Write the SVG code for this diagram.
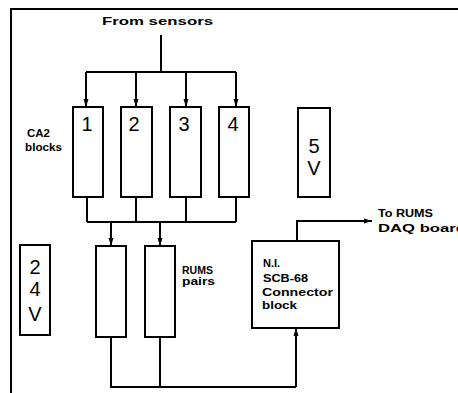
<svg xmlns="http://www.w3.org/2000/svg" width="458" height="393" viewBox="0 0 458 393">
<style>
.box{fill:#fff;stroke:#000;stroke-width:2}
.ln{fill:none;stroke:#000;stroke-width:2}
.lbl{font-family:"Liberation Sans",Arial,sans-serif;font-weight:bold;font-size:11px;fill:#000}
.num{font-family:"Liberation Sans",Arial,sans-serif;font-size:20px;fill:#000}
</style>
<defs>
<marker id="ah" viewBox="0 0 8 6" refX="8" refY="3" markerWidth="8" markerHeight="6" markerUnits="userSpaceOnUse" orient="auto">
<path d="M0,0.5 L8,3 L0,5.5 Z" fill="#000"/>
</marker>
</defs>
<rect width="458" height="393" fill="#fff"/>
<path class="ln" d="M11,393 V9 H458"/>
<text class="lbl" x="102" y="25" font-size="13" textLength="111" lengthAdjust="spacingAndGlyphs">From sensors</text>
<g id="connectors">
<path class="ln" d="M161,35 V72 M86,72 H236"/>
<path class="ln" d="M86,72 V107" marker-end="url(#ah)"/>
<path class="ln" d="M136,72 V107" marker-end="url(#ah)"/>
<path class="ln" d="M186,72 V107" marker-end="url(#ah)"/>
<path class="ln" d="M236,72 V107" marker-end="url(#ah)"/>
<path class="ln" d="M87,197 V222 M136,197 V222 M186,197 V222 M236,197 V222 M87,222 H236"/>
<path class="ln" d="M111,222 V246" marker-end="url(#ah)"/>
<path class="ln" d="M160,222 V246" marker-end="url(#ah)"/>
<path class="ln" d="M111,337 V387 H296 M160,337 V387"/>
<path class="ln" d="M296,387 V328" marker-end="url(#ah)"/>
<path class="ln" d="M297,241 V221 H372" marker-end="url(#ah)"/>
</g>
<g id="ca2-1"><rect class="box" x="73" y="107" width="30" height="90"/><text class="num" x="87" y="131" text-anchor="middle">1</text></g>
<g id="ca2-2"><rect class="box" x="121" y="107" width="31" height="90"/><text class="num" x="134" y="131" text-anchor="middle">2</text></g>
<g id="ca2-3"><rect class="box" x="170" y="107" width="31" height="90"/><text class="num" x="184" y="131" text-anchor="middle">3</text></g>
<g id="ca2-4"><rect class="box" x="219" y="107" width="30" height="90"/><text class="num" x="233" y="131" text-anchor="middle">4</text></g>
<text class="lbl" x="27" y="137" font-size="9" textLength="23" lengthAdjust="spacingAndGlyphs">CA2</text>
<text class="lbl" x="25" y="151" font-size="9" textLength="37" lengthAdjust="spacingAndGlyphs">blocks</text>
<g id="v5"><rect class="box" x="298" y="108" width="32" height="89"/><text class="num" x="314" y="153" text-anchor="middle" font-size="24">5</text><text class="num" x="314" y="175" text-anchor="middle" font-size="22">V</text></g>
<g id="v24"><rect class="box" x="20" y="245" width="30" height="90"/><text class="num" x="35" y="274" text-anchor="middle" font-size="21">2</text><text class="num" x="35" y="296" text-anchor="middle" font-size="21">4</text><text class="num" x="35" y="321" text-anchor="middle" font-size="24">V</text></g>
<g id="rums-1"><rect class="box" x="96" y="246" width="30" height="91"/></g>
<g id="rums-2"><rect class="box" x="145" y="246" width="30" height="91"/></g>
<text class="lbl" x="182" y="274" font-size="10" textLength="31" lengthAdjust="spacingAndGlyphs">RUMS</text>
<text class="lbl" x="182" y="285" font-size="10" textLength="33" lengthAdjust="spacingAndGlyphs">pairs</text>
<g id="ni"><rect class="box" x="252" y="241" width="87" height="87"/>
<text class="lbl" x="263" y="267">N.I.</text>
<text class="lbl" x="263" y="282" textLength="45" lengthAdjust="spacingAndGlyphs">SCB-68</text>
<text class="lbl" x="262" y="296" textLength="71" lengthAdjust="spacingAndGlyphs">Connector</text>
<text class="lbl" x="262" y="309" textLength="35" lengthAdjust="spacingAndGlyphs">block</text></g>
<text class="lbl" x="378" y="217" font-size="12" textLength="55" lengthAdjust="spacingAndGlyphs">To RUMS</text>
<text class="lbl" x="378" y="232" font-size="12" textLength="88" lengthAdjust="spacingAndGlyphs">DAQ board</text>
</svg>
